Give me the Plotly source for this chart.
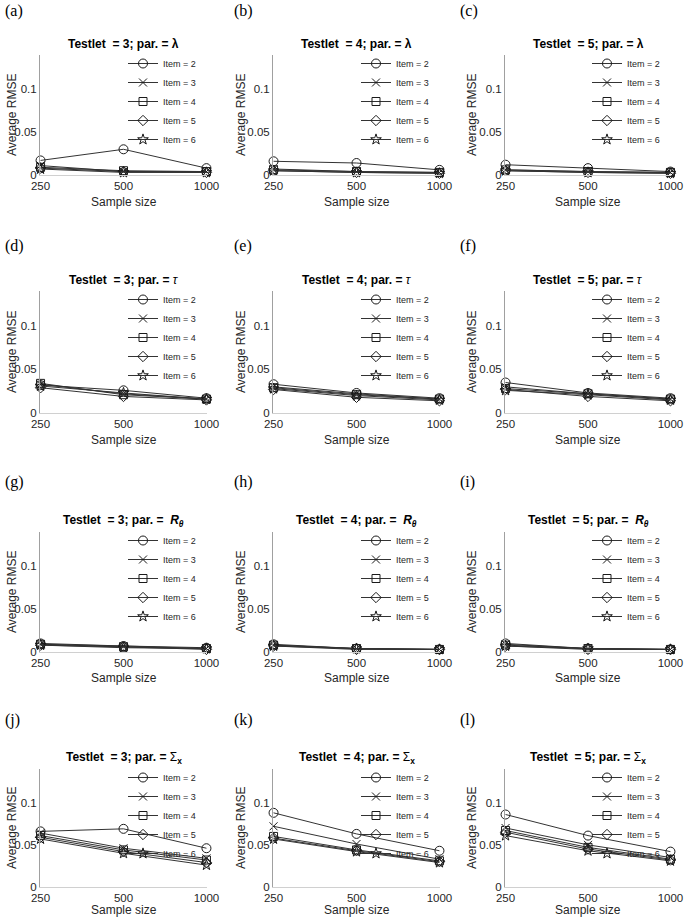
import numpy as np
import plotly.graph_objects as go

W, H = 685, 920

sample_sizes = [250, 500, 1000]
sample_labels = ["250", "500", "1000"]
item_names = ["Item = 2", "Item = 3", "Item = 4", "Item = 5", "Item = 6"]
y_ticks = [0, 0.05, 0.1]
y_tick_labels = ["0", "0.05", "0.1"]

# rows: item 2..6, columns: sample size 250, 500, 1000
lambda_t3 = [[0.017, 0.030, 0.008], [0.011, 0.004, 0.004], [0.009, 0.005, 0.004], [0.008, 0.004, 0.003], [0.007, 0.003, 0.003]]
lambda_t4 = [[0.016, 0.014, 0.006], [0.007, 0.004, 0.003], [0.006, 0.004, 0.003], [0.005, 0.003, 0.002], [0.005, 0.003, 0.002]]
lambda_t5 = [[0.012, 0.008, 0.004], [0.006, 0.004, 0.003], [0.006, 0.004, 0.003], [0.005, 0.003, 0.002], [0.005, 0.003, 0.002]]
tau_t3 = [[0.032, 0.026, 0.017], [0.033, 0.022, 0.016], [0.034, 0.021, 0.016], [0.029, 0.019, 0.015], [0.031, 0.023, 0.016]]
tau_t4 = [[0.033, 0.023, 0.017], [0.030, 0.022, 0.016], [0.029, 0.021, 0.016], [0.027, 0.018, 0.014], [0.028, 0.020, 0.015]]
tau_t5 = [[0.035, 0.023, 0.017], [0.030, 0.022, 0.016], [0.028, 0.022, 0.016], [0.027, 0.019, 0.014], [0.026, 0.021, 0.015]]
rtheta_t3 = [[0.010, 0.007, 0.005], [0.009, 0.007, 0.004], [0.009, 0.006, 0.004], [0.008, 0.006, 0.003], [0.008, 0.005, 0.004]]
rtheta_t4 = [[0.009, 0.004, 0.003], [0.008, 0.004, 0.003], [0.008, 0.004, 0.003], [0.007, 0.003, 0.003], [0.007, 0.004, 0.003]]
rtheta_t5 = [[0.010, 0.004, 0.003], [0.009, 0.004, 0.003], [0.008, 0.004, 0.003], [0.007, 0.003, 0.003], [0.007, 0.004, 0.003]]
sigma_t3 = [[0.066, 0.069, 0.046], [0.064, 0.046, 0.034], [0.061, 0.044, 0.032], [0.059, 0.042, 0.029], [0.057, 0.040, 0.026]]
sigma_t4 = [[0.088, 0.063, 0.043], [0.072, 0.051, 0.033], [0.060, 0.044, 0.031], [0.058, 0.043, 0.030], [0.057, 0.042, 0.029]]
sigma_t5 = [[0.086, 0.061, 0.042], [0.070, 0.050, 0.035], [0.067, 0.047, 0.033], [0.065, 0.045, 0.032], [0.061, 0.043, 0.031]]

panel_data = [lambda_t3, lambda_t4, lambda_t5,
              tau_t3, tau_t4, tau_t5,
              rtheta_t3, rtheta_t4, rtheta_t5,
              sigma_t3, sigma_t4, sigma_t5]
panel_letters = ["(a)", "(b)", "(c)", "(d)", "(e)", "(f)", "(g)", "(h)", "(i)", "(j)", "(k)", "(l)"]
testlets = [3, 4, 5]

symbols = ["circle-open", "x-thin-open", "square-open", "diamond-open", "star-open"]

# layout in pixels
col_x = [(40, 207), (273, 440), (505, 671)]
row_y = [(55, 175), (291, 413), (532, 652), (769, 887)]
xtitle_off = [27, 27, 26, 23]
label_x = [3, 232, 458]
label_y = [11, 246, 482, 720]
ytitle_x = [12, 241, 472]

def px(x):
    return x / W

def py(y):
    return 1 - y / H

FONT = "Liberation Sans, Arial, sans-serif"
fig = go.Figure()
layout = dict(width=W, height=H, margin=dict(l=0, r=0, t=0, b=0, autoexpand=False),
              template="none",
              paper_bgcolor="white", plot_bgcolor="white", autosize=False,
              font=dict(family=FONT, color="#262626"), hovermode=False)
annotations = []
eps = 0.002

for p in range(12):
    r, c = divmod(p, 3)
    idx = p + 1
    xa = "x" if idx == 1 else f"x{idx}"
    ya = "y" if idx == 1 else f"y{idx}"
    lg = "legend" if idx == 1 else f"legend{idx}"
    x0, x1 = col_x[c]
    y0, y1 = row_y[r]
    for k, name in enumerate(item_names):
        fig.add_trace(go.Scatter(
            x=sample_sizes, y=panel_data[p][k], name=name, mode="lines+markers",
            xaxis=xa, yaxis=ya, legend=lg, cliponaxis=False,
            line=dict(color="#333333", width=1),
            marker=dict(symbol=symbols[k], size=8 if k != 0 else 9, color="#1a1a1a",
                        line=dict(color="#1a1a1a", width=1)),
        ))
    layout["xaxis" if idx == 1 else f"xaxis{idx}"] = dict(
        domain=[px(x0), px(x1)], anchor=ya, type="log", automargin=False,
        range=[np.log10(sample_sizes[0]) - eps, np.log10(sample_sizes[-1]) + eps],
        tickvals=sample_sizes, ticktext=sample_labels,
        showgrid=False, zeroline=False, showline=True, linecolor="#d0d0d0", linewidth=1,
        ticks="", tickfont=dict(size=11.5, color="#262626", family=FONT), fixedrange=True)
    layout["yaxis" if idx == 1 else f"yaxis{idx}"] = dict(
        domain=[py(y1), py(y0)], anchor=xa, range=[0, 0.14], automargin=False,
        tickvals=y_ticks, ticktext=y_tick_labels,
        showgrid=False, zeroline=False, showline=True, linecolor="#a0a0a0", linewidth=1,
        ticks="", tickfont=dict(size=11.5, color="#262626", family=FONT), fixedrange=True)
    layout[lg] = dict(x=px(x1 - 6), y=py(y0 - 6), xanchor="right", yanchor="top",
                      bgcolor="rgba(0,0,0,0)", borderwidth=0,
                      font=dict(size=9, family=FONT, color="#262626"),
                      tracegroupgap=0, itemwidth=30)
    if r == 0:
        title = f"<b>Testlet  = {testlets[c]}; par. = λ</b>"
    elif r == 1:
        title = f"<b>Testlet  = {testlets[c]}; par. = </b><i>τ</i>"
    elif r == 2:
        title = f"<b>Testlet  = {testlets[c]}; par. =  <i>R</i><sub><i>θ</i></sub></b>"
    else:
        title = f"<b>Testlet  = {testlets[c]}; par. = </b>Σ<sub><b>x</b></sub>"
    annotations.append(dict(text=title, xref="paper", yref="paper",
                            x=px((x0 + x1) / 2), y=py(y0 - 11), xanchor="center", yanchor="middle",
                            showarrow=False, font=dict(size=12, color="black", family=FONT)))
    annotations.append(dict(text="Sample size", xref="paper", yref="paper",
                            x=px((x0 + x1) / 2), y=py(y1 + xtitle_off[r]), xanchor="center", yanchor="middle",
                            showarrow=False, font=dict(size=12, color="#262626", family=FONT)))
    annotations.append(dict(text="Average RMSE", xref="paper", yref="paper", textangle=-90,
                            x=px(ytitle_x[c]), y=py((y0 + y1) / 2), xanchor="center", yanchor="middle",
                            showarrow=False, font=dict(size=12, color="#262626", family=FONT)))
    annotations.append(dict(text=panel_letters[p], xref="paper", yref="paper",
                            x=px(label_x[c]), y=py(label_y[r]), xanchor="left", yanchor="middle",
                            showarrow=False, font=dict(size=16, color="black",
                                                       family="Liberation Serif, Times New Roman, serif")))

layout["annotations"] = annotations
fig.update_layout(**layout)
fig.write_html("out.html", config={"displayModeBar": False, "responsive": False},
               post_script="document.body.style.margin='0';document.body.style.overflow='hidden';")
